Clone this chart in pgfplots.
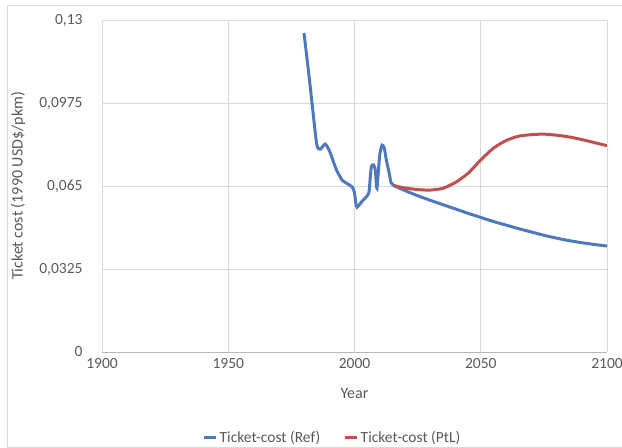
\documentclass[border=0pt]{standalone}
\usepackage{pgfplots}
\pgfplotsset{compat=1.18}
\usepackage{fontspec}
\setmainfont{Carlito}

\definecolor{refblue}{RGB}{79,121,190}
\definecolor{ptlred}{RGB}{192,80,77}
\definecolor{txtgray}{RGB}{89,89,89}

\pgfplotstableread{
year cost
1980 0.1249
1982 0.1080
1984 0.0900
1985 0.0815
1985.7 0.0796
1986.5 0.0794
1987.5 0.0806
1988.4 0.0814
1989.4 0.0801
1990.4 0.0780
1992 0.0735
1993 0.0710
1994.3 0.0686
1995.3 0.0671
1997 0.0660
1999 0.0647
1999.9 0.0628
2000.5 0.0585
2001 0.0567
2003 0.0590
2005.6 0.0621
2006.2 0.0680
2006.7 0.0727
2007.5 0.0733
2008.2 0.0715
2008.6 0.0665
2008.9 0.0641
2009.4 0.0700
2010 0.0772
2010.9 0.0810
2011.8 0.0798
2012.6 0.0752
2013.5 0.0712
2014.5 0.0662
2015.5 0.0652
2020 0.0632
2025 0.0612
2030 0.0594
2035 0.0577
2040 0.0560
2045 0.0543
2050 0.0527
2055 0.0511
2060 0.0497
2065 0.0483
2070 0.0470
2075 0.0457
2080 0.0446
2085 0.0436
2090 0.0428
2095 0.0421
2100 0.0415
}\refdata

\pgfplotstableread{
year cost
2015.5 0.0652
2020 0.0642
2025 0.0636
2030 0.0634
2035 0.0641
2040 0.0664
2045 0.0700
2050 0.0752
2055 0.0798
2060 0.0828
2065 0.0845
2070 0.0851
2075 0.0853
2080 0.0849
2085 0.0842
2090 0.0832
2095 0.0820
2100 0.0808
}\ptldata

\begin{document}
\begin{tikzpicture}
\begin{axis}[
    at={(0,0)}, anchor=south west,
    scale only axis,
    width=505bp, height=332bp,
    xmin=1900, xmax=2100,
    ymin=0, ymax=0.13,
    xtick={1900,1950,2000,2050,2100},
    xticklabels={1900,1950,2000,2050,2100},
    ytick={0,0.0325,0.065,0.0975,0.13},
    yticklabels={0,{0,0325},{0,065},{0,0975},{0,13}},
    major tick length=0pt,
    grid=major,
    major grid style={draw=black!15, line width=0.8bp},
    axis x line*=bottom, axis y line*=left,
    x axis line style={-, draw=black!28, line width=0.8bp},
    y axis line style={draw=none},
    tick label style={font=\fontsize{15.5bp}{18bp}\selectfont, text=txtgray},
    y tick label style={xshift=-16bp},
    x tick label style={yshift=-3bp},
    xlabel={Year},
    ylabel={Ticket cost (1990 USD\$/pkm)},
    label style={font=\fontsize{16bp}{19bp}\selectfont, text=txtgray},
    xlabel style={at={(axis description cs:0.5,-0.1235)}, anchor=center},
    ylabel style={at={(axis description cs:-0.1663,0.5)}, anchor=center},
    legend columns=2,
    legend style={at={(axis description cs:0.457,-0.258)}, anchor=center,
        draw=none, fill=none,
        font=\fontsize{15.5bp}{18bp}\selectfont, text=txtgray,
        /tikz/every even column/.append style={column sep=22bp}},
    legend image code/.code={\draw[#1, line width=2.5bp] (0bp,0bp) -- (12bp,0bp);},
]
\addplot[refblue, line width=3bp, smooth, tension=0.4] table[x=year, y=cost] {\refdata};
\addlegendentry{Ticket-cost (Ref)}
\addplot[ptlred, line width=3bp, smooth, tension=0.4] table[x=year, y=cost] {\ptldata};
\addlegendentry{Ticket-cost (PtL)}
\end{axis}
\draw[black!15, line width=0.8bp] (-95bp,-95bp) rectangle (540bp,347bp);
\pgfresetboundingbox
\useasboundingbox (-102bp,-96bp) rectangle (520bp,352bp);
\end{tikzpicture}
\end{document}
